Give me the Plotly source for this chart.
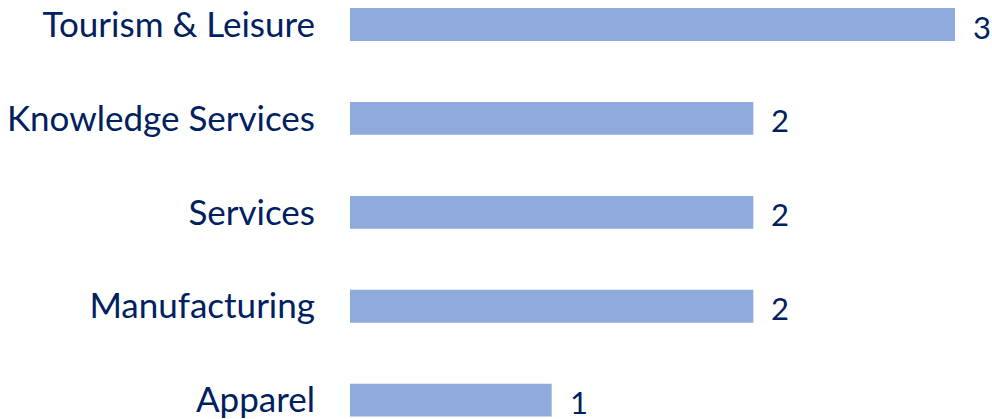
import plotly.graph_objects as go

categories = ["Apparel", "Manufacturing", "Services", "Knowledge Services", "Tourism & Leisure"]
values = [1, 2, 2, 2, 3]

TEXT = "#002060"
BAR = "#8FAADC"
FONT = "Lato"

fig = go.Figure()
fig.add_trace(go.Bar(
    x=values, y=categories, orientation="h",
    marker=dict(color=BAR, line=dict(width=0)),
    width=0.35, hoverinfo="skip",
))
for v, c in zip(values, categories):
    fig.add_annotation(x=v, y=c, text=str(v), showarrow=False,
                       xanchor="left", xshift=16, yshift=-2,
                       font=dict(family=FONT, size=31, color=TEXT))

fig.update_layout(
    width=992, height=419,
    margin=dict(l=350, r=37, t=0, b=0),
    paper_bgcolor="white", plot_bgcolor="white",
    showlegend=False,
    xaxis=dict(range=[0, 3.0], visible=False, fixedrange=True),
    yaxis=dict(range=[-0.201, 4.261], showgrid=False, zeroline=False, showline=False,
               ticks="", ticklabelstandoff=34, fixedrange=True,
               tickfont=dict(family=FONT, size=35, color=TEXT)),
)
fig.write_html("out.html", config={"displayModeBar": False},
               post_script="document.body.style.margin='0';document.body.style.overflow='hidden';")
